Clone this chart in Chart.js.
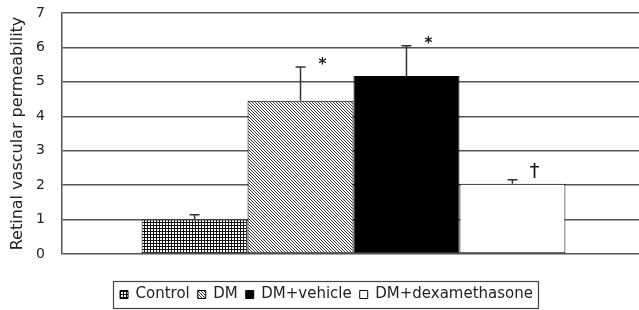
<!DOCTYPE html>
<html><head><meta charset="utf-8">
<script src="https://cdn.jsdelivr.net/npm/chart.js@4.4.0/dist/chart.umd.min.js"></script>
<style>html,body{margin:0;padding:0;background:#fff;overflow:hidden}#wrap{width:645px;height:310px;position:relative}</style>
</head><body><div id="wrap"><canvas id="c"></canvas></div>
<script>
const categories = [''];
const groups = ['Control', 'DM', 'DM+vehicle', 'DM+dexamethasone'];
const means = [1.0, 4.45, 5.17, 2.04];
const sems = [0.14, 0.98, 0.88, 0.12];
const marks = ['', '*', '*', '\u2020'];
const yTicks = [0, 1, 2, 3, 4, 5, 6, 7];

function gridPattern() {
  const c = document.createElement('canvas'); c.width = 3; c.height = 3;
  const g = c.getContext('2d');
  g.fillStyle = '#fff'; g.fillRect(0, 0, 3, 3);
  g.fillStyle = '#111'; g.fillRect(0, 0, 3, 1); g.fillRect(0, 0, 1, 3);
  return g.createPattern(c, 'repeat');
}
function diagPattern() {
  const c = document.createElement('canvas'); c.width = 3; c.height = 3;
  const g = c.getContext('2d');
  g.fillStyle = '#fff'; g.fillRect(0, 0, 3, 3);
  g.fillStyle = '#333';
  for (let i = 0; i < 3; i++) g.fillRect(i, i, 1, 1);
  return g.createPattern(c, 'repeat');
}
const fills = [gridPattern(), diagPattern(), '#000', '#fff'];

const FONT = "'DejaVu Sans', 'Liberation Sans', sans-serif";
const TXT = '#222';

const errorBars = {
  id: 'errorBars',
  afterDatasetsDraw(chart) {
    const ctx = chart.ctx, ys = chart.scales.y;
    ctx.save();
    chart.data.datasets.forEach((ds, i) => {
      const bar = chart.getDatasetMeta(i).data[0];
      const yTop = ys.getPixelForValue(means[i] + sems[i]);
      ctx.strokeStyle = '#333'; ctx.lineWidth = 1.5;
      ctx.beginPath();
      ctx.moveTo(bar.x, bar.y); ctx.lineTo(bar.x, yTop);
      ctx.moveTo(bar.x - 5, yTop); ctx.lineTo(bar.x + 5, yTop);
      ctx.stroke();
      const m = marks[i];
      if (m) {
        ctx.fillStyle = '#111';
        ctx.font = (m === '*' ? 'bold 15px ' : '20px ') + FONT;
        ctx.textAlign = 'center'; ctx.textBaseline = 'alphabetic';
        const mt = ctx.measureText(m);
        ctx.fillText(m, bar.x + 22, yTop - 2 - mt.actualBoundingBoxDescent);
      }
    });
    ctx.restore();
  }
};

const legendFrame = {
  id: 'legendFrame',
  afterDraw(chart) {
    const hb = chart.legend && chart.legend.legendHitBoxes;
    if (!hb || !hb.length) return;
    let l = Infinity, r = -Infinity, t = Infinity, b = -Infinity;
    hb.forEach(h => { l = Math.min(l, h.left); r = Math.max(r, h.left + h.width); t = Math.min(t, h.top); b = Math.max(b, h.top + h.height); });
    const ctx = chart.ctx;
    ctx.save(); ctx.strokeStyle = '#444'; ctx.lineWidth = 1.2;
    ctx.strokeRect(Math.round(l - 7) + 0.5, Math.round(t - 6) + 0.5, Math.round(r - l + 12), Math.round(b - t + 12));
    ctx.restore();
  }
};

new Chart(document.getElementById('c'), {
  type: 'bar',
  data: {
    labels: categories,
    datasets: groups.map((g, i) => ({
      label: g, data: [means[i]], backgroundColor: fills[i],
      borderColor: '#000', borderWidth: 1, borderSkipped: false
    }))
  },
  options: {
    responsive: true, maintainAspectRatio: false, animation: false,
    layout: { padding: { left: 8, top: 13, right: 0, bottom: -2 } },
    datasets: { bar: { categoryPercentage: 0.727, barPercentage: 1 } },
    scales: {
      x: {
        display: true,
        ticks: { display: false },
        grid: { display: false },
        border: { display: false },
        afterFit(s) { s.height = 25; }
      },
      y: {
        min: 0, max: 7,
        afterBuildTicks(s) { s.ticks = yTicks.map(v => ({ value: v })); },
        afterFit(s) { s.width = 54; s.paddingTop = 0; s.paddingBottom = 0; },
        ticks: { font: { family: FONT, size: 14 }, color: TXT, padding: 17 },
        grid: { color: '#555', lineWidth: 1.5, drawTicks: false },
        border: { display: true, color: '#555', width: 1.5 },
        title: { display: true, text: 'Retinal vascular permeability', font: { family: FONT, size: 16 }, color: TXT, padding: 0 }
      }
    },
    plugins: {
      legend: {
        position: 'bottom',
        labels: { font: { family: FONT, size: 15 }, color: TXT, boxWidth: 8, boxHeight: 8, padding: 8 }
      },
      tooltip: { enabled: false }
    }
  },
  plugins: [errorBars, legendFrame]
});
</script></body></html>
